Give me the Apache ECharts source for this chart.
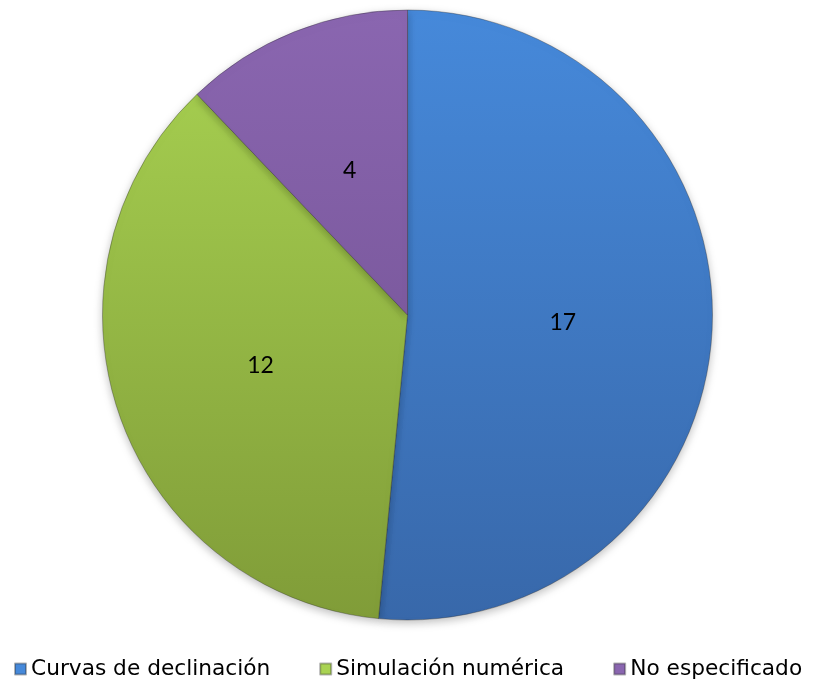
<!DOCTYPE html>
<html>
<head>
<meta charset="utf-8">
<script src="https://cdn.jsdelivr.net/npm/echarts@6/dist/echarts.min.js"></script>
<style>
  html, body { margin: 0; padding: 0; background: #fff; }
  #chart { width: 816px; height: 682px; }
</style>
</head>
<body>
<div id="chart"></div>
<script>
// Métodos de pronóstico utilizados
const categories = ['Curvas de declinación', 'Simulación numérica', 'No especificado'];
const values = [17, 12, 4];
const topColors = ['#4689DA', '#A9D352', '#8A66B0'];
const bottomColors = ['#3868AA', '#809C38', '#6E4E8E'];

const cx = 407.5, cy = 315, radius = 305;

function vGrad(top, bottom) {
  return {
    type: 'linear', x: 0, y: cy - radius, x2: 0, y2: cy + radius, global: true,
    colorStops: [{ offset: 0, color: top }, { offset: 1, color: bottom }]
  };
}

const chart = echarts.init(document.getElementById('chart'), null, { renderer: 'canvas' });
chart.setOption({
  animation: false,
  backgroundColor: '#ffffff',
  legend: {
    left: 14,
    top: 658,
    width: 900,
    padding: 0,
    icon: 'rect',
    itemWidth: 11,
    itemHeight: 11,
    itemGap: 49,
    textStyle: { fontFamily: 'DejaVu Sans', fontSize: 21.7, color: '#000' },
    data: categories
  },
  series: [{
    type: 'pie',
    center: [cx, cy],
    radius: [0, radius],
    startAngle: 90,
    clockwise: true,
    label: {
      show: true,
      position: 'inner',
      formatter: '{c}',
      fontFamily: 'Lato',
      fontSize: 23,
      color: '#000'
    },
    labelLine: { show: false },
    itemStyle: {
      borderColor: 'rgba(40,40,40,0.35)',
      borderWidth: 1,
      shadowBlur: 8,
      shadowOffsetY: 3,
      shadowColor: 'rgba(0,0,0,0.25)'
    },
    emphasis: { disabled: true },
    data: categories.map((name, i) => ({
      name,
      value: values[i],
      itemStyle: { color: vGrad(topColors[i], bottomColors[i]) }
    }))
  }],
  color: topColors
});
</script>
</body>
</html>
